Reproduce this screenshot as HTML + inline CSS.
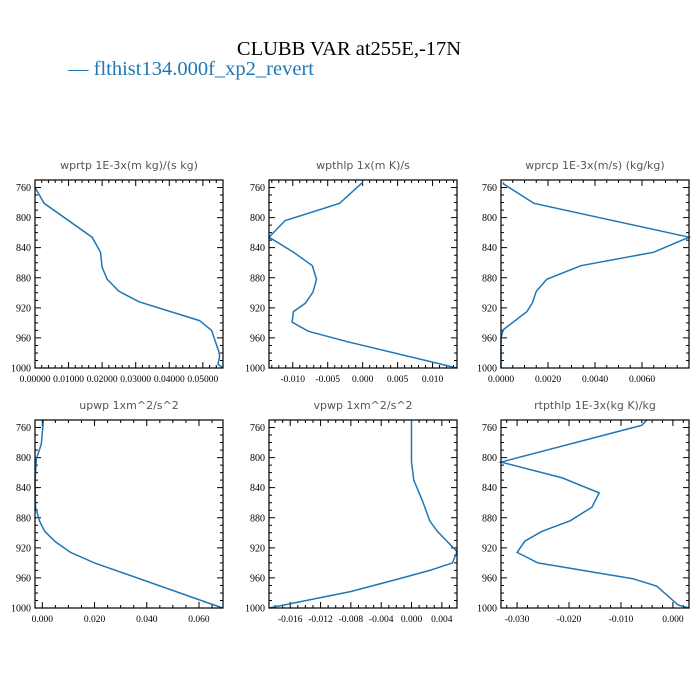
<!DOCTYPE html>
<html><head><meta charset="utf-8"><style>
body{margin:0;background:#fff}
svg{display:block}
</style></head><body>
<svg id="chart" width="700" height="700" viewBox="0 0 700 700" xmlns="http://www.w3.org/2000/svg">
<rect width="700" height="700" fill="#fff"/>
<text x="349" y="55" text-anchor="middle" font-family="Liberation Serif, serif" font-size="20.5" fill="#000">CLUBB VAR at255E,-17N</text>
<g>
<text x="68" y="75" font-family="Liberation Serif, serif" font-size="20.5" fill="#1f77b4">— flthist134.000f_xp2_revert</text>
</g>
<g id="panels"></g>
</svg>
<script>
const levels_wprtp=[760,781,826,846,866,882,898,912,937,950,979,985,995,1000];
const values_wprtp=[0,0.0027,0.017,0.0195,0.020,0.0215,0.025,0.031,0.049,0.0526,0.0548,0.055,0.0545,0.056];
const levels_wpthlp=[753,781,804,826,846,864,882,899,914,925,939,951,965,1000];
const values_wpthlp=[0,-0.0033,-0.0111,-0.0134,-0.0099,-0.0072,-0.0066,-0.0071,-0.0082,-0.0099,-0.0101,-0.0078,-0.0022,0.0135];
const levels_wprcp=[753,755,781,826,846,864,882,898,913,925,949,960,1000];
const values_wprcp=[0.0001,0.0001,0.0014,0.0080,0.0065,0.0034,0.00195,0.0015,0.00134,0.0011,0.0001,0,0];
const levels_upwp=[750,782,802,832,866,885,898,912,926,940,1000];
const values_upwp=[0.0004,-0.0004,-0.0023,-0.0028,-0.0026,-0.0010,0.0009,0.005,0.0108,0.020,0.069];
const levels_vpwp=[750,806,830,859,884,898,925,940,950,960,978,1000];
const values_vpwp=[0,0,0.0003,0.0015,0.0024,0.0034,0.006,0.0054,0.0024,-0.0012,-0.008,-0.0188];
const levels_rtpthlp=[750,757,806,827,847,866,884,898,911,926,940,961,971,985,996,1000];
const values_rtpthlp=[-0.005,-0.006,-0.0331,-0.0213,-0.0142,-0.0156,-0.0198,-0.0252,-0.0285,-0.030,-0.026,-0.0077,-0.0031,-0.0008,0.001,0.0031];
const yTicks=[760,800,840,880,920,960,1000];
const xticks_wprtp=[0,0.01,0.02,0.03,0.04,0.05];
const xlabels_wprtp=["0.00000","0.01000","0.02000","0.03000","0.04000","0.05000"];
const xticks_wpthlp=[-0.01,-0.005,0,0.005,0.01];
const xlabels_wpthlp=["-0.010","-0.005","0.000","0.005","0.010"];
const xticks_wprcp=[0,0.002,0.004,0.006];
const xlabels_wprcp=["0.0000","0.0020","0.0040","0.0060"];
const xticks_upwp=[0,0.02,0.04,0.06];
const xlabels_upwp=["0.000","0.020","0.040","0.060"];
const xticks_vpwp=[-0.016,-0.012,-0.008,-0.004,0,0.004];
const xlabels_vpwp=["-0.016","-0.012","-0.008","-0.004","0.000","0.004"];
const xticks_rtpthlp=[-0.03,-0.02,-0.01,0];
const xlabels_rtpthlp=["-0.030","-0.020","-0.010","0.000"];

const NS="http://www.w3.org/2000/svg";
const root=document.getElementById('panels');
const panels=[
 {name:'wprtp',title:'wprtp  1E-3x(m kg)/(s kg)',x0:35,y0:180,xmin:0,xmax:0.056,lev:levels_wprtp,val:values_wprtp,xt:xticks_wprtp,xl:xlabels_wprtp,minor:5},
 {name:'wpthlp',title:'wpthlp  1x(m K)/s',x0:269,y0:180,xmin:-0.0134,xmax:0.0135,lev:levels_wpthlp,val:values_wpthlp,xt:xticks_wpthlp,xl:xlabels_wpthlp,minor:5},
 {name:'wprcp',title:'wprcp  1E-3x(m/s) (kg/kg)',x0:501,y0:180,xmin:0,xmax:0.0080,lev:levels_wprcp,val:values_wprcp,xt:xticks_wprcp,xl:xlabels_wprcp,minor:4},
 {name:'upwp',title:'upwp  1xm^2/s^2',x0:35,y0:420,xmin:-0.0028,xmax:0.0692,lev:levels_upwp,val:values_upwp,xt:xticks_upwp,xl:xlabels_upwp,minor:4},
 {name:'vpwp',title:'vpwp  1xm^2/s^2',x0:269,y0:420,xmin:-0.0188,xmax:0.0060,lev:levels_vpwp,val:values_vpwp,xt:xticks_vpwp,xl:xlabels_vpwp,minor:4},
 {name:'rtpthlp',title:'rtpthlp  1E-3x(kg K)/kg',x0:501,y0:420,xmin:-0.0331,xmax:0.0031,lev:levels_rtpthlp,val:values_rtpthlp,xt:xticks_rtpthlp,xl:xlabels_rtpthlp,minor:5}
];
const W=188,H=188,PMIN=750,PMAX=1000;
function mk(tag,attrs,parent){const e=document.createElementNS(NS,tag);for(const k in attrs)e.setAttribute(k,attrs[k]);parent.appendChild(e);return e;}
panels.forEach(p=>{
 const g=mk('g',{},root);
 
 
 const xs=v=>p.x0+(v-p.xmin)/(p.xmax-p.xmin)*W;
 const ys=v=>p.y0+(v-PMIN)/(PMAX-PMIN)*H;
 const t=mk('text',{x:p.x0+W/2,y:p.y0-11,'text-anchor':'middle','font-family':'DejaVu Sans, sans-serif','font-size':'11','fill':'#555','xml:space':'preserve'},g);
 t.textContent=p.title;
 
 
 // ticks
 let d='';
 for(let pv=PMIN;pv<=PMAX;pv+=10){const y=ys(pv);const L=(pv%40===0)?6:3;d+=`M${p.x0},${y}h${L}M${p.x0+W},${y}h${-L}`;}
 const step=p.xt[1]-p.xt[0],ms=step/p.minor;
 let start=p.xt[0];while(start-ms>=p.xmin-1e-12)start-=ms;
 for(let v=start,i=0;v<=p.xmax+1e-12;v+=ms,i++){const x=xs(v);const maj=p.xt.some(q=>Math.abs(q-v)<ms/3);const L=maj?6:3;d+=`M${x},${p.y0+H}v${-L}M${x},${p.y0}v${L}`;}
 const tk=mk('path',{d:d,stroke:'#000','stroke-width':'1',fill:'none'},g);
 
 
 yTicks.forEach(v=>{const e=mk('text',{x:p.x0-4,y:ys(v)+3.5,'text-anchor':'end','font-family':'Liberation Serif, serif','font-size':'10'},g);e.textContent=v;
  
  });
 p.xt.forEach((v,i)=>{const e=mk('text',{x:xs(v),y:p.y0+H+14,'text-anchor':'middle','font-family':'Liberation Serif, serif','font-size':'9.5'},g);e.textContent=p.xl[i];
  
  });
 const pts=p.lev.map((l,i)=>xs(p.val[i]).toFixed(1)+','+ys(l).toFixed(1)).join(' ');
 const ln=mk('polyline',{points:pts,fill:'none',stroke:'#1f77b4','stroke-width':'1.5'},g);
 
 
 const fr=mk('rect',{x:p.x0,y:p.y0,width:W,height:H,fill:'none',stroke:'#000','stroke-width':'1.2'},g);
 
 
});
</script>
</body></html>
